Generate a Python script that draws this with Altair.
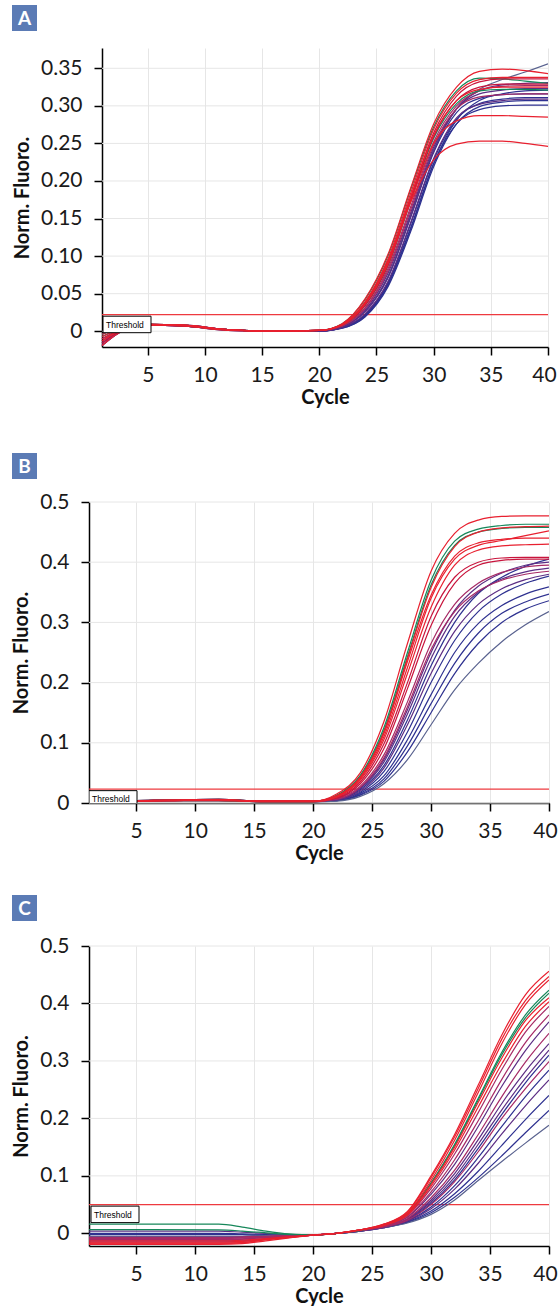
import altair as alt
import pandas as pd

# ---------------- data ----------------
X_TICKS = [5, 10, 15, 20, 25, 30, 35, 40]

RED = "#e8202f"
CRIMSON = "#c8143c"
GREEN = "#16875a"
NAVY = "#2e3190"
PURPLE = "#5c2d84"
MAGENTA = "#a62a66"
SLATE = "#59628f"

# Panel A
A_CYCLES = [1, 3, 5, 8, 12, 16, 20, 22, 24, 26, 28, 30, 32, 34, 36, 38, 40]
A_COLORS = [RED, GREEN, RED, GREEN, CRIMSON, RED, RED, MAGENTA, PURPLE, NAVY,
            SLATE, PURPLE, NAVY, NAVY, MAGENTA, CRIMSON, PURPLE, NAVY, RED, NAVY]
A_VALUES = [
    [-0.013, 0.004, 0.009, 0.008, 0.002, 0.000, 0.001, 0.010, 0.043, 0.102, 0.191, 0.276, 0.325, 0.346, 0.349, 0.347, 0.343],
    [-0.007, 0.005, 0.009, 0.008, 0.002, 0.000, 0.001, 0.010, 0.042, 0.100, 0.189, 0.272, 0.320, 0.337, 0.336, 0.333, 0.330],
    [-0.019, 0.002, 0.008, 0.008, 0.002, 0.000, 0.001, 0.009, 0.039, 0.096, 0.184, 0.269, 0.317, 0.335, 0.338, 0.338, 0.338],
    [-0.004, 0.006, 0.009, 0.007, 0.002, 0.000, 0.001, 0.008, 0.034, 0.087, 0.173, 0.257, 0.303, 0.320, 0.322, 0.322, 0.321],
    [-0.016, 0.003, 0.008, 0.007, 0.002, 0.000, 0.001, 0.009, 0.037, 0.091, 0.179, 0.264, 0.313, 0.332, 0.336, 0.336, 0.336],
    [-0.010, 0.004, 0.008, 0.007, 0.001, 0.000, 0.001, 0.009, 0.038, 0.094, 0.172, 0.228, 0.249, 0.253, 0.253, 0.250, 0.246],
    [-0.007, 0.005, 0.009, 0.008, 0.002, 0.000, 0.001, 0.008, 0.036, 0.089, 0.173, 0.250, 0.280, 0.287, 0.287, 0.286, 0.285],
    [-0.019, 0.002, 0.008, 0.008, 0.002, 0.000, 0.001, 0.007, 0.031, 0.083, 0.166, 0.252, 0.300, 0.320, 0.326, 0.327, 0.327],
    [-0.013, 0.004, 0.009, 0.008, 0.002, 0.000, 0.001, 0.006, 0.028, 0.077, 0.158, 0.245, 0.296, 0.316, 0.321, 0.323, 0.323],
    [-0.016, 0.003, 0.008, 0.007, 0.002, 0.000, 0.000, 0.006, 0.026, 0.071, 0.152, 0.238, 0.291, 0.310, 0.315, 0.316, 0.316],
    [-0.004, 0.006, 0.009, 0.007, 0.002, 0.000, 0.000, 0.006, 0.026, 0.073, 0.155, 0.242, 0.296, 0.322, 0.335, 0.345, 0.356],
    [-0.010, 0.004, 0.008, 0.007, 0.001, 0.000, 0.000, 0.005, 0.023, 0.066, 0.145, 0.230, 0.284, 0.302, 0.307, 0.309, 0.309],
    [-0.019, 0.002, 0.008, 0.008, 0.002, 0.000, 0.000, 0.004, 0.019, 0.059, 0.133, 0.219, 0.276, 0.299, 0.305, 0.307, 0.307],
    [-0.013, 0.004, 0.009, 0.008, 0.002, 0.000, 0.000, 0.005, 0.021, 0.063, 0.138, 0.223, 0.276, 0.295, 0.300, 0.301, 0.301],
    [-0.007, 0.005, 0.009, 0.008, 0.002, 0.000, 0.001, 0.007, 0.030, 0.080, 0.162, 0.248, 0.296, 0.312, 0.315, 0.316, 0.316],
    [-0.004, 0.006, 0.009, 0.007, 0.002, 0.000, 0.001, 0.008, 0.034, 0.087, 0.175, 0.259, 0.307, 0.325, 0.329, 0.329, 0.329],
    [-0.016, 0.003, 0.008, 0.007, 0.002, 0.000, 0.000, 0.006, 0.026, 0.072, 0.153, 0.240, 0.296, 0.320, 0.328, 0.330, 0.331],
    [-0.010, 0.004, 0.008, 0.007, 0.001, 0.000, 0.000, 0.004, 0.020, 0.061, 0.136, 0.223, 0.281, 0.307, 0.316, 0.320, 0.321],
    [-0.013, 0.004, 0.009, 0.008, 0.002, 0.000, 0.001, 0.009, 0.037, 0.092, 0.179, 0.261, 0.307, 0.322, 0.325, 0.325, 0.325],
    [-0.019, 0.002, 0.008, 0.008, 0.002, 0.000, 0.000, 0.005, 0.022, 0.064, 0.143, 0.228, 0.282, 0.303, 0.309, 0.311, 0.311],
]
A_THRESHOLD = 0.022

# Panel B
B_CYCLES = [1, 3, 5, 8, 12, 16, 20, 22, 24, 26, 28, 30, 32, 34, 36, 38, 40]
B_COLORS = [RED, GREEN, GREEN, RED, RED, RED, RED, CRIMSON, CRIMSON, PURPLE,
            MAGENTA, PURPLE, NAVY, PURPLE, NAVY, NAVY, NAVY, NAVY, SLATE, MAGENTA]
B_VALUES = [
    [0.002, 0.002, 0.003, 0.004, 0.005, 0.003, 0.003, 0.015, 0.050, 0.135, 0.265, 0.385, 0.448, 0.470, 0.476, 0.477, 0.477],
    [0.003, 0.003, 0.004, 0.005, 0.006, 0.003, 0.003, 0.013, 0.046, 0.125, 0.250, 0.370, 0.435, 0.455, 0.461, 0.463, 0.463],
    [0.001, 0.002, 0.003, 0.004, 0.004, 0.002, 0.002, 0.012, 0.044, 0.120, 0.243, 0.362, 0.428, 0.450, 0.456, 0.458, 0.458],
    [0.004, 0.004, 0.004, 0.005, 0.005, 0.003, 0.003, 0.012, 0.043, 0.118, 0.240, 0.358, 0.426, 0.450, 0.457, 0.459, 0.460],
    [0.002, 0.002, 0.003, 0.004, 0.005, 0.003, 0.003, 0.010, 0.040, 0.110, 0.225, 0.340, 0.405, 0.428, 0.436, 0.444, 0.452],
    [0.003, 0.003, 0.004, 0.005, 0.006, 0.003, 0.003, 0.011, 0.042, 0.115, 0.235, 0.345, 0.410, 0.432, 0.438, 0.440, 0.440],
    [0.001, 0.002, 0.003, 0.004, 0.004, 0.002, 0.002, 0.010, 0.038, 0.105, 0.215, 0.325, 0.395, 0.420, 0.427, 0.429, 0.430],
    [0.004, 0.004, 0.004, 0.005, 0.005, 0.003, 0.003, 0.009, 0.035, 0.098, 0.200, 0.310, 0.375, 0.400, 0.407, 0.408, 0.408],
    [0.002, 0.002, 0.003, 0.004, 0.005, 0.003, 0.003, 0.008, 0.032, 0.090, 0.190, 0.295, 0.365, 0.395, 0.403, 0.405, 0.405],
    [0.003, 0.003, 0.004, 0.005, 0.006, 0.003, 0.003, 0.006, 0.025, 0.072, 0.155, 0.250, 0.320, 0.360, 0.382, 0.395, 0.400],
    [0.001, 0.002, 0.003, 0.004, 0.004, 0.002, 0.002, 0.007, 0.028, 0.080, 0.168, 0.265, 0.330, 0.365, 0.383, 0.392, 0.395],
    [0.004, 0.004, 0.004, 0.005, 0.005, 0.003, 0.003, 0.006, 0.024, 0.068, 0.148, 0.240, 0.310, 0.350, 0.372, 0.384, 0.390],
    [0.002, 0.002, 0.003, 0.004, 0.005, 0.003, 0.003, 0.005, 0.022, 0.062, 0.138, 0.228, 0.300, 0.348, 0.375, 0.393, 0.405],
    [0.003, 0.003, 0.004, 0.005, 0.006, 0.003, 0.003, 0.005, 0.020, 0.058, 0.130, 0.215, 0.285, 0.330, 0.356, 0.371, 0.380],
    [0.001, 0.002, 0.003, 0.004, 0.004, 0.002, 0.002, 0.005, 0.018, 0.052, 0.118, 0.200, 0.270, 0.318, 0.347, 0.365, 0.377],
    [0.004, 0.004, 0.004, 0.005, 0.005, 0.003, 0.003, 0.004, 0.016, 0.045, 0.105, 0.180, 0.250, 0.298, 0.328, 0.347, 0.359],
    [0.002, 0.002, 0.003, 0.004, 0.005, 0.003, 0.003, 0.004, 0.014, 0.040, 0.095, 0.165, 0.232, 0.282, 0.315, 0.334, 0.347],
    [0.003, 0.003, 0.004, 0.005, 0.006, 0.003, 0.003, 0.004, 0.013, 0.036, 0.085, 0.150, 0.215, 0.265, 0.300, 0.322, 0.336],
    [0.001, 0.002, 0.003, 0.004, 0.004, 0.002, 0.002, 0.003, 0.011, 0.032, 0.072, 0.130, 0.188, 0.232, 0.268, 0.296, 0.318],
    [0.004, 0.004, 0.004, 0.005, 0.005, 0.003, 0.003, 0.006, 0.026, 0.075, 0.160, 0.255, 0.318, 0.352, 0.370, 0.380, 0.385],
]
B_THRESHOLD = 0.023

# Panel C
C_CYCLES = [1, 6, 12, 14, 16, 18, 20, 22, 24, 26, 28, 30, 32, 34, 36, 38, 40]
C_COLORS = [RED, RED, RED, GREEN, RED, MAGENTA, MAGENTA, PURPLE, MAGENTA, PURPLE,
            NAVY, MAGENTA, NAVY, PURPLE, NAVY, NAVY, SLATE, RED, GREEN, PURPLE]
C_VALUES = [
    [-0.019, -0.019, -0.019, -0.018, -0.013, -0.008, -0.003, 0.000, 0.006, 0.016, 0.038, 0.100, 0.172, 0.258, 0.345, 0.415, 0.456],
    [-0.017, -0.017, -0.017, -0.016, -0.011, -0.007, -0.003, 0.000, 0.006, 0.016, 0.037, 0.097, 0.168, 0.252, 0.338, 0.405, 0.447],
    [-0.015, -0.015, -0.015, -0.014, -0.010, -0.006, -0.003, 0.000, 0.006, 0.015, 0.035, 0.092, 0.162, 0.245, 0.330, 0.398, 0.441],
    [0.016, 0.016, 0.016, 0.011, 0.004, -0.001, -0.003, 0.000, 0.006, 0.015, 0.034, 0.088, 0.155, 0.235, 0.315, 0.380, 0.423],
    [-0.013, -0.013, -0.013, -0.012, -0.009, -0.006, -0.003, 0.000, 0.006, 0.014, 0.032, 0.082, 0.145, 0.220, 0.295, 0.360, 0.403],
    [-0.011, -0.011, -0.011, -0.010, -0.007, -0.005, -0.003, 0.000, 0.005, 0.014, 0.031, 0.078, 0.138, 0.210, 0.285, 0.350, 0.395],
    [-0.009, -0.009, -0.009, -0.008, -0.006, -0.004, -0.003, 0.000, 0.005, 0.013, 0.029, 0.072, 0.128, 0.196, 0.268, 0.332, 0.380],
    [0.004, 0.004, 0.004, 0.002, 0.000, -0.002, -0.003, 0.000, 0.005, 0.013, 0.028, 0.068, 0.120, 0.186, 0.256, 0.318, 0.368],
    [-0.007, -0.007, -0.007, -0.006, -0.005, -0.004, -0.003, 0.000, 0.005, 0.012, 0.026, 0.062, 0.110, 0.172, 0.238, 0.298, 0.348],
    [-0.011, -0.011, -0.011, -0.010, -0.007, -0.005, -0.003, 0.000, 0.005, 0.012, 0.024, 0.055, 0.098, 0.155, 0.215, 0.270, 0.319],
    [-0.005, -0.005, -0.005, -0.005, -0.004, -0.003, -0.003, 0.000, 0.005, 0.011, 0.023, 0.052, 0.093, 0.148, 0.207, 0.262, 0.310],
    [-0.009, -0.009, -0.009, -0.008, -0.006, -0.004, -0.003, 0.000, 0.005, 0.011, 0.023, 0.050, 0.090, 0.142, 0.200, 0.252, 0.299],
    [-0.002, -0.002, -0.002, -0.002, -0.003, -0.003, -0.003, 0.000, 0.004, 0.011, 0.022, 0.046, 0.083, 0.132, 0.186, 0.238, 0.284],
    [-0.013, -0.013, -0.013, -0.012, -0.009, -0.006, -0.003, 0.000, 0.004, 0.010, 0.021, 0.043, 0.077, 0.122, 0.173, 0.222, 0.267],
    [0.000, 0.000, 0.000, -0.001, -0.002, -0.003, -0.003, 0.000, 0.004, 0.010, 0.020, 0.039, 0.069, 0.108, 0.153, 0.198, 0.240],
    [-0.007, -0.007, -0.007, -0.006, -0.005, -0.004, -0.003, 0.000, 0.004, 0.010, 0.019, 0.036, 0.063, 0.097, 0.135, 0.175, 0.214],
    [-0.005, -0.005, -0.005, -0.005, -0.004, -0.003, -0.003, 0.000, 0.004, 0.010, 0.018, 0.033, 0.058, 0.092, 0.125, 0.157, 0.188],
    [-0.017, -0.017, -0.017, -0.016, -0.011, -0.007, -0.003, 0.000, 0.006, 0.014, 0.033, 0.085, 0.150, 0.228, 0.305, 0.370, 0.410],
    [0.0065, 0.0065, 0.006, 0.004, 0.001, -0.002, -0.003, 0.000, 0.005, 0.015, 0.034, 0.087, 0.153, 0.232, 0.311, 0.375, 0.418],
    [-0.015, -0.015, -0.015, -0.014, -0.010, -0.006, -0.003, 0.000, 0.005, 0.012, 0.025, 0.058, 0.104, 0.163, 0.226, 0.282, 0.330],
]
C_THRESHOLD = 0.05

A_YTICKS = [0, 0.05, 0.10, 0.15, 0.20, 0.25, 0.30, 0.35]
BC_YTICKS = [0, 0.1, 0.2, 0.3, 0.4, 0.5]

# ---------------- helpers ----------------
FONT = "Lato"
THR_COLOR = "#ee3a3f"
GRID = "#e6e6e6"
BOX_BLUE = "#5b7bb5"
DRAW_RANK = {NAVY: 0, SLATE: 0, PURPLE: 1, MAGENTA: 2, GREEN: 3, CRIMSON: 3, RED: 4}


def long_df(cycles, values, colors):
    rows = []
    for i, (vals, col) in enumerate(zip(values, colors)):
        for c, v in zip(cycles, vals):
            rows.append({"curve": i, "cycle": c, "value": v, "color": col,
                         "rank": DRAW_RANK[col]})
    df = pd.DataFrame(rows)
    return df.sort_values(["rank", "curve", "cycle"], kind="stable").reset_index(drop=True)


def panel(cycles, values, colors, thr, letter, y_domain, y_ticks, y_fmt,
          data_width, height, inset, letter_dy, box_left):
    width = data_width + inset
    df = long_df(cycles, values, colors)
    thr_df = pd.DataFrame({"value": [thr], "label": ["Threshold"], "cycle": [1], "cycle_end": [40]})
    grid_df = pd.DataFrame({"value": y_ticks, "cycle": [1] * len(y_ticks),
                            "cycle_end": [40] * len(y_ticks)})
    let_df = pd.DataFrame({"letter": [letter]})

    xs = alt.Scale(domain=[1, 40], nice=False, zero=False, range=[inset, width])
    ys = alt.Scale(domain=y_domain, nice=False, zero=False)
    x_axis = alt.Axis(values=X_TICKS, title="Cycle", grid=True,
                      gridColor=GRID, gridWidth=1,
                      domainColor="black", domainWidth=1.5,
                      tickColor="black", tickWidth=1.5, tickSize=8,
                      labelFont=FONT, labelFontSize=21, labelColor="#1a1a1a",
                      labelPadding=9, labelFlush=False,
                      labelOffset=alt.condition("datum.value == 40", alt.value(-4), alt.value(0)),
                      titleFont=FONT, titleFontSize=20, titleFontWeight="bold",
                      titleColor="#111111", titlePadding=2)
    y_axis = alt.Axis(values=y_ticks, title="Norm. Fluoro.", grid=False, offset=-inset,
                      labelExpr=f"datum.value == 0 ? '0' : format(datum.value, '{y_fmt}')",
                      domainColor="black", domainWidth=1.5,
                      tickColor="black", tickWidth=1.5, tickSize=8,
                      labelFont=FONT, labelFontSize=21, labelColor="#1a1a1a",
                      labelPadding=12,
                      titleFont=FONT, titleFontSize=20, titleFontWeight="bold",
                      titleColor="#111111", titlePadding=8)
    X = alt.X("cycle:Q", scale=xs, axis=x_axis)
    Y = alt.Y("value:Q", scale=ys, axis=y_axis)

    ygrid = alt.Chart(grid_df).mark_rule(color=GRID, strokeWidth=1).encode(
        x=X, x2=alt.X2("cycle_end"), y=Y)
    rule = alt.Chart(thr_df).mark_rule(color=THR_COLOR, strokeWidth=1.2).encode(
        x=X, x2=alt.X2("cycle_end"), y=Y)
    lines = alt.Chart(df).mark_line(interpolate="monotone", strokeWidth=1.2, clip=True).encode(
        x=X, y=Y, detail="curve:N", color=alt.Color("color:N", scale=None))
    box = alt.Chart(thr_df).mark_rect(fill="white", stroke="black", strokeWidth=1,
                                      yOffset=1.5, y2Offset=18, clip=True).encode(
        x=alt.value(inset + box_left), x2=alt.value(inset + box_left + 48),
        y=Y, y2=alt.Y2("value"))
    box_text = alt.Chart(thr_df).mark_text(align="left", baseline="middle", dx=3, dy=10,
                                           font="Liberation Sans", fontSize=8.5,
                                           color="black").encode(
        x=alt.value(inset + box_left), y=Y, text="label:N")
    let_box = alt.Chart(let_df).mark_rect(fill=BOX_BLUE).encode(
        x=alt.value(-77), x2=alt.value(-52),
        y=alt.value(letter_dy), y2=alt.value(letter_dy + 26))
    let_text = alt.Chart(let_df).mark_text(font=FONT, fontSize=19, fontWeight="bold",
                                           color="white", align="center",
                                           baseline="middle").encode(
        x=alt.value(-64.5), y=alt.value(letter_dy + 14), text="letter:N")

    return alt.layer(ygrid, rule, lines, box, box_text, let_box, let_text).properties(
        width=width, height=height)


pA = panel(A_CYCLES, A_VALUES, A_COLORS, A_THRESHOLD, "A", [-0.021, 0.377], A_YTICKS, ".2f",
           446, 299, 13, -43, 1)
pB = panel(B_CYCLES, B_VALUES, B_COLORS, B_THRESHOLD, "B", [0, 0.5], BC_YTICKS, ".1f",
           460, 301, 0, -49, 0)
pC = panel(C_CYCLES, C_VALUES, C_COLORS, C_THRESHOLD, "C", [-0.022, 0.5], BC_YTICKS, ".1f",
           460, 300, 0, -51, 2)

top = alt.vconcat(pA, pB, spacing=46)
chart = alt.vconcat(top, pC, spacing=32).properties(
    padding={"left": 11, "top": 5, "right": 0, "bottom": 0},
    background="white",
).configure_view(stroke=None)

chart.save("out.html", embed_options={"renderer": "svg", "actions": False})
